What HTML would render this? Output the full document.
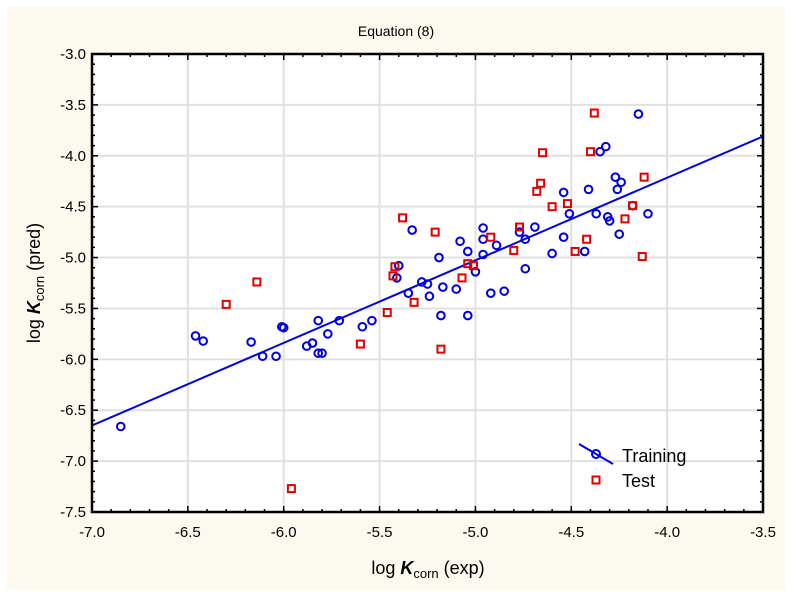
<!DOCTYPE html>
<html><head><meta charset="utf-8"><style>
html,body{margin:0;padding:0;background:#fff;}
svg{display:block;font-family:"Liberation Sans",Arial,sans-serif;}
</style></head><body>
<svg id="chart" width="792" height="597" viewBox="0 0 792 597">
<rect x="7" y="7" width="778" height="583" fill="#fcf9ef"/>
<text x="396" y="36" text-anchor="middle" font-size="14" fill="#000">Equation (8)</text>
<rect x="92" y="54" width="671" height="458" fill="#fff"/>
<g id="grid"></g><g id="ticks"></g>
<line id="fit" stroke="#0000dd" stroke-width="2"/>
<g id="marks"></g>
<rect x="92" y="54" width="671" height="458" fill="none" stroke="#000" stroke-width="2.5"/>
<text x="428" y="574" text-anchor="middle" font-size="18">log <tspan font-weight="bold" font-style="italic">K</tspan><tspan font-size="13" dy="4">corn</tspan><tspan dy="-4"> (exp)</tspan></text>
<text transform="translate(40,283) rotate(-90)" text-anchor="middle" font-size="18">log <tspan font-weight="bold" font-style="italic">K</tspan><tspan font-size="13" dy="4">corn</tspan><tspan dy="-4"> (pred)</tspan></text>
<g>
<line x1="579" y1="444" x2="613" y2="464" stroke="#0000dd" stroke-width="2"/>
<circle cx="596" cy="454" r="4" fill="none" stroke="#0000dd" stroke-width="2"/>
<text x="622" y="462" font-size="18">Training</text>
<rect x="592.5" y="476.5" width="7" height="7" fill="none" stroke="#e00000" stroke-width="2"/>
<text x="622" y="487" font-size="18">Test</text>
</g>
</svg>
<script>
const xTicks=[-7.0,-6.5,-6.0,-5.5,-5.0,-4.5,-4.0,-3.5];
const yTicks=[-3.0,-3.5,-4.0,-4.5,-5.0,-5.5,-6.0,-6.5,-7.0,-7.5];
const fitLine=[[-7.0,-6.65],[-3.5,-3.81]];
const trainX=[-6.85,-6.46,-6.42,-6.17,-6.11,-6.04,-6.01,-6.00,-5.88,-5.85,-5.82,-5.82,-5.80,-5.77,-5.71,-5.59,-5.54,-5.33,-5.19,-5.40,-5.41,-5.35,-5.28,-5.25,-5.24,-5.17,-5.10,-5.08,-5.04,-4.96,-4.96,-4.96,-5.00,-4.92,-4.89,-4.85,-4.77,-4.74,-4.69,-4.74,-4.60,-4.54,-4.54,-4.51,-4.43,-4.41,-4.37,-4.35,-4.32,-4.31,-4.30,-4.27,-4.24,-4.26,-4.25,-4.18,-4.15,-4.10,-5.18,-5.04];
const trainY=[-6.66,-5.77,-5.82,-5.83,-5.97,-5.97,-5.68,-5.69,-5.87,-5.84,-5.62,-5.94,-5.94,-5.75,-5.62,-5.68,-5.62,-4.73,-5.00,-5.08,-5.20,-5.35,-5.24,-5.26,-5.38,-5.29,-5.31,-4.84,-4.94,-4.71,-4.82,-4.97,-5.14,-5.35,-4.88,-5.33,-4.75,-4.82,-4.70,-5.11,-4.96,-4.36,-4.80,-4.57,-4.94,-4.33,-4.57,-3.96,-3.91,-4.60,-4.64,-4.21,-4.26,-4.33,-4.77,-4.49,-3.59,-4.57,-5.57,-5.57];
const testX=[-6.30,-6.14,-5.96,-5.60,-5.46,-5.38,-5.21,-4.65,-4.38,-4.40,-4.66,-4.68,-4.60,-4.52,-4.12,-4.18,-4.22,-4.42,-4.48,-4.13,-4.77,-4.80,-4.92,-5.01,-5.04,-5.07,-5.32,-5.42,-5.43,-5.18];
const testY=[-5.46,-5.24,-7.27,-5.85,-5.54,-4.61,-4.75,-3.97,-3.58,-3.96,-4.27,-4.35,-4.50,-4.47,-4.21,-4.49,-4.62,-4.82,-4.94,-4.99,-4.70,-4.93,-4.80,-5.08,-5.06,-5.20,-5.44,-5.09,-5.18,-5.90];
const NS='http://www.w3.org/2000/svg';
const L=92,R=763,T=54,B=512;
function sx(v){return L+(v+7.0)/3.5*(R-L);}
function sy(v){return T+(-3.0-v)/4.5*(B-T);}
function mk(t,a,p){const e=document.createElementNS(NS,t);for(const k in a)e.setAttribute(k,a[k]);p.appendChild(e);return e;}
const grid=document.getElementById('grid'),ticks=document.getElementById('ticks'),marks=document.getElementById('marks');
xTicks.forEach(v=>{const x=sx(v);
 if(v>-7&&v<-3.5){const g=mk('line',{x1:x,x2:x,y1:T,y2:B,stroke:'#e0e0e0','stroke-width':2},grid);
 
 }
 const t=mk('text',{x:x,y:B+25,'text-anchor':'middle','font-size':15},ticks);t.textContent=v.toFixed(1);
 
 
});
for(let i=0;i<=35;i++){const v=-7+i*0.1,x=sx(v),maj=i%5==0;
 mk('line',{x1:x,x2:x,y1:B,y2:B-(maj?6:3),stroke:'#000','stroke-width':1.5},ticks);
 mk('line',{x1:x,x2:x,y1:T,y2:T+(maj?6:3),stroke:'#000','stroke-width':1.5},ticks);}
for(let i=0;i<=45;i++){const v=-3-i*0.1,y=sy(v),maj=i%5==0;
 mk('line',{x1:L,x2:L+(maj?6:3),y1:y,y2:y,stroke:'#000','stroke-width':1.5},ticks);
 mk('line',{x1:R,x2:R-(maj?6:3),y1:y,y2:y,stroke:'#000','stroke-width':1.5},ticks);}
yTicks.forEach(v=>{const y=sy(v);
 if(v<-3&&v>-7.5){const g=mk('line',{x1:L,x2:R,y1:y,y2:y,stroke:'#e0e0e0','stroke-width':2},grid);
 
 }
 const t=mk('text',{x:L-6,y:y+5,'text-anchor':'end','font-size':15},ticks);t.textContent=v.toFixed(1);
 
 
});
const f=document.getElementById('fit');
f.setAttribute('x1',sx(fitLine[0][0]));f.setAttribute('y1',sy(fitLine[0][1]));
f.setAttribute('x2',sx(fitLine[1][0]));f.setAttribute('y2',sy(fitLine[1][1]));
trainX.forEach((v,i)=>{const c=mk('circle',{cx:sx(v),cy:sy(trainY[i]),r:3.8,fill:'none',stroke:'#0000dd','stroke-width':2},marks);
 
 });
testX.forEach((v,i)=>{const r=mk('rect',{x:sx(v)-3.5,y:sy(testY[i])-3.5,width:7,height:7,fill:'none',stroke:'#e00000','stroke-width':2},marks);
 
 });
</script>
</body></html>
